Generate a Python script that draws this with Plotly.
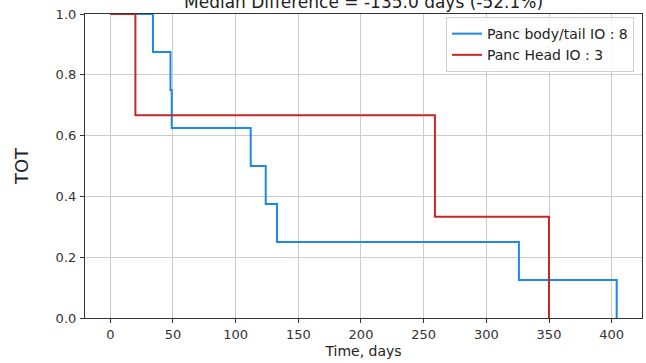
import plotly.graph_objects as go

# Kaplan-Meier style step data
body_tail_time = [0, 34, 48, 49, 112, 124, 133, 326, 404]
body_tail_surv = [1.0, 0.875, 0.75, 0.625, 0.5, 0.375, 0.25, 0.125, 0.0]
head_time = [0, 20, 259, 350]
head_surv = [1.0, 0.667, 0.333, 0.0]

x_ticks = [0, 50, 100, 150, 200, 250, 300, 350, 400]
y_ticks = [0.0, 0.2, 0.4, 0.6, 0.8, 1.0]
y_tick_labels = ["0.0", "0.2", "0.4", "0.6", "0.8", "1.0"]

title_text = "Median Difference = -135.0 days (-52.1%)"
font_family = "DejaVu Sans"

fig = go.Figure()
fig.add_trace(go.Scatter(
    x=body_tail_time, y=body_tail_surv, mode="lines", line_shape="hv",
    line=dict(color="#1E88E5", width=2), name="Panc body/tail IO : 8"))
fig.add_trace(go.Scatter(
    x=head_time, y=head_surv, mode="lines", line_shape="hv",
    line=dict(color="#C62828", width=2), name="Panc Head IO : 3"))

axis_common = dict(
    showline=True, linecolor="#333333", linewidth=1.2, mirror=True,
    showgrid=True, gridcolor="#cccccc", gridwidth=1,
    ticks="outside", ticklen=4, tickcolor="#333333",
    tickfont=dict(family=font_family, size=13, color="#333333"),
    zeroline=False, automargin=False,
)

fig.update_layout(
    width=646, height=363,
    margin=dict(l=85, r=4, t=14, b=45),
    plot_bgcolor="white", paper_bgcolor="white",
    font=dict(family=font_family, color="#222222"),
    xaxis=dict(range=[-20.2, 424.2], tickvals=x_ticks,
               title=dict(text="Time, days", font=dict(size=14), standoff=5),
               **axis_common),
    yaxis=dict(range=[0, 1], tickvals=y_ticks, ticktext=y_tick_labels,
               ticklabelstandoff=1,
               title=dict(text="TOT", font=dict(size=18), standoff=22),
               **axis_common),
    legend=dict(x=0.9856, y=0.99, xanchor="right", yanchor="top",
                bgcolor="rgba(255,255,255,0.85)", bordercolor="#d0d0d0",
                borderwidth=1, font=dict(family=font_family, size=14, color="#222222"),
                tracegroupgap=0),
    showlegend=True,
    annotations=[dict(text=title_text, xref="paper", yref="paper", x=0.5, y=1,
                      xanchor="center", yanchor="bottom", yshift=0, showarrow=False,
                      font=dict(family=font_family, size=17, color="#222222"))],
)

fig.write_html("out.html", config={"displayModeBar": False},
               post_script="document.body.style.margin='0';")
